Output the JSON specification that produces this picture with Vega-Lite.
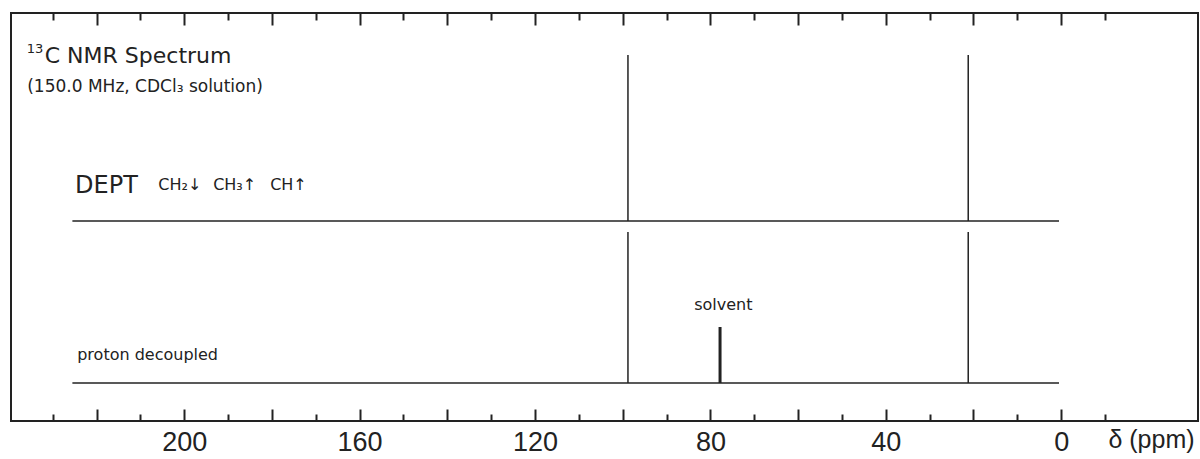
{
  "$schema": "https://vega.github.io/schema/vega-lite/v6.json",
  "width": 1187,
  "height": 408,
  "autosize": {"type": "none"},
  "padding": {"left": 11, "top": 13, "right": 2, "bottom": 38},
  "background": "white",
  "config": {
    "view": {"stroke": "#222", "strokeWidth": 2},
    "axis": {"domain": false, "grid": false, "tickColor": "#222", "tickWidth": 2, "labelColor": "#222", "titleColor": "#222"}
  },
  "datasets": {
    "peaks": [
      {"trace": "DEPT", "ppm": 98.8, "base": 200, "top": 366},
      {"trace": "DEPT", "ppm": 21.2, "base": 200, "top": 366},
      {"trace": "proton decoupled", "ppm": 98.8, "base": 38, "top": 189},
      {"trace": "proton decoupled", "ppm": 21.2, "base": 38, "top": 189}
    ],
    "baselines": [
      {"trace": "DEPT", "from": 225.5, "to": 0.5, "level": 200},
      {"trace": "proton decoupled", "from": 225.5, "to": 0.5, "level": 38}
    ],
    "solvent": [
      {"trace": "proton decoupled", "ppm": 77.8, "base": 38, "top": 94}
    ],
    "title": [
      {"ppm": 231.8, "y": 358, "text": "C NMR Spectrum"}
    ],
    "isotope": [
      {"ppm": 235.9, "y": 368, "text": "13"}
    ],
    "subtitle": [
      {"ppm": 235.8, "y": 329, "text": "(150.0 MHz, CDCl₃ solution)"}
    ],
    "dept": [
      {"ppm": 224.9, "y": 228, "text": "DEPT"}
    ],
    "small": [
      {"ppm": 205.9, "y": 231, "text": "CH₂↓"},
      {"ppm": 193.4, "y": 231, "text": "CH₃↑"},
      {"ppm": 180.4, "y": 231, "text": "CH↑"},
      {"ppm": 224.4, "y": 61, "text": "proton decoupled"},
      {"ppm": 83.7, "y": 111, "text": "solvent"}
    ]
  },
  "resolve": {"axis": {"x": "independent"}},
  "encoding": {},
  "layer": [
    {
      "data": {"name": "peaks"},
      "mark": {"type": "rule", "color": "#222", "strokeWidth": 1.5},
      "encoding": {
        "x": {"field": "ppm", "type": "quantitative",
              "scale": {"domain": [-31.2, 239.5], "reverse": true, "nice": false, "zero": false},
              "axis": {"orient": "bottom", "values": [0, 40, 80, 120, 160, 200], "ticks": false,
                       "labelFont": "Liberation Sans", "labelFontSize": 27, "labelPadding": 8,
                       "title": "δ (ppm)", "titleFont": "Liberation Sans", "titleFontSize": 25, "titleFontWeight": "normal",
                       "titleX": 1140, "titleY": 26, "titleBaseline": "alphabetic", "titleAlign": "center", "titleAnchor": null}},
        "y": {"field": "base", "type": "quantitative", "scale": {"domain": [0, 408], "nice": false, "zero": false}, "axis": null},
        "y2": {"field": "top"}
      }
    },
    {
      "data": {"name": "baselines"},
      "mark": {"type": "rule", "color": "#222", "strokeWidth": 1.5},
      "encoding": {
        "x": {"field": "from", "type": "quantitative",
              "axis": {"orient": "bottom", "values": [0, 20, 40, 60, 80, 100, 120, 140, 160, 180, 200, 220], "labels": false, "tickSize": -12, "title": null}},
        "x2": {"field": "to"},
        "y": {"field": "level", "type": "quantitative", "axis": null}
      }
    },
    {
      "data": {"name": "solvent"},
      "mark": {"type": "rule", "color": "#222", "strokeWidth": 3},
      "encoding": {
        "x": {"field": "ppm", "type": "quantitative",
              "axis": {"orient": "bottom", "values": [-10, 10, 30, 50, 70, 90, 110, 130, 150, 170, 190, 210, 230], "labels": false, "tickSize": -7, "title": null}},
        "y": {"field": "base", "type": "quantitative", "axis": null},
        "y2": {"field": "top"}
      }
    },
    {
      "data": {"name": "title"},
      "mark": {"type": "text", "align": "left", "baseline": "alphabetic", "font": "DejaVu Sans", "fontSize": 22, "color": "#222"},
      "encoding": {
        "x": {"field": "ppm", "type": "quantitative",
              "axis": {"orient": "top", "values": [0, 20, 40, 60, 80, 100, 120, 140, 160, 180, 200, 220], "labels": false, "tickSize": -12, "title": null}},
        "y": {"field": "y", "type": "quantitative", "axis": null},
        "text": {"field": "text"}
      }
    },
    {
      "data": {"name": "subtitle"},
      "mark": {"type": "text", "align": "left", "baseline": "alphabetic", "font": "DejaVu Sans", "fontSize": 17, "color": "#222"},
      "encoding": {
        "x": {"field": "ppm", "type": "quantitative",
              "axis": {"orient": "top", "values": [-10, 10, 30, 50, 70, 90, 110, 130, 150, 170, 190, 210, 230], "labels": false, "tickSize": -7, "title": null}},
        "y": {"field": "y", "type": "quantitative", "axis": null},
        "text": {"field": "text"}
      }
    },
    {
      "data": {"name": "isotope"},
      "mark": {"type": "text", "align": "left", "baseline": "alphabetic", "font": "DejaVu Sans", "fontSize": 13, "color": "#222"},
      "encoding": {
        "x": {"field": "ppm", "type": "quantitative", "axis": null},
        "y": {"field": "y", "type": "quantitative", "axis": null},
        "text": {"field": "text"}
      }
    },
    {
      "data": {"name": "dept"},
      "mark": {"type": "text", "align": "left", "baseline": "alphabetic", "font": "DejaVu Sans", "fontSize": 24, "color": "#222"},
      "encoding": {
        "x": {"field": "ppm", "type": "quantitative", "axis": null},
        "y": {"field": "y", "type": "quantitative", "axis": null},
        "text": {"field": "text"}
      }
    },
    {
      "data": {"name": "small"},
      "mark": {"type": "text", "align": "left", "baseline": "alphabetic", "font": "DejaVu Sans", "fontSize": 16, "color": "#222"},
      "encoding": {
        "x": {"field": "ppm", "type": "quantitative", "axis": null},
        "y": {"field": "y", "type": "quantitative", "axis": null},
        "text": {"field": "text"}
      }
    }
  ]
}
